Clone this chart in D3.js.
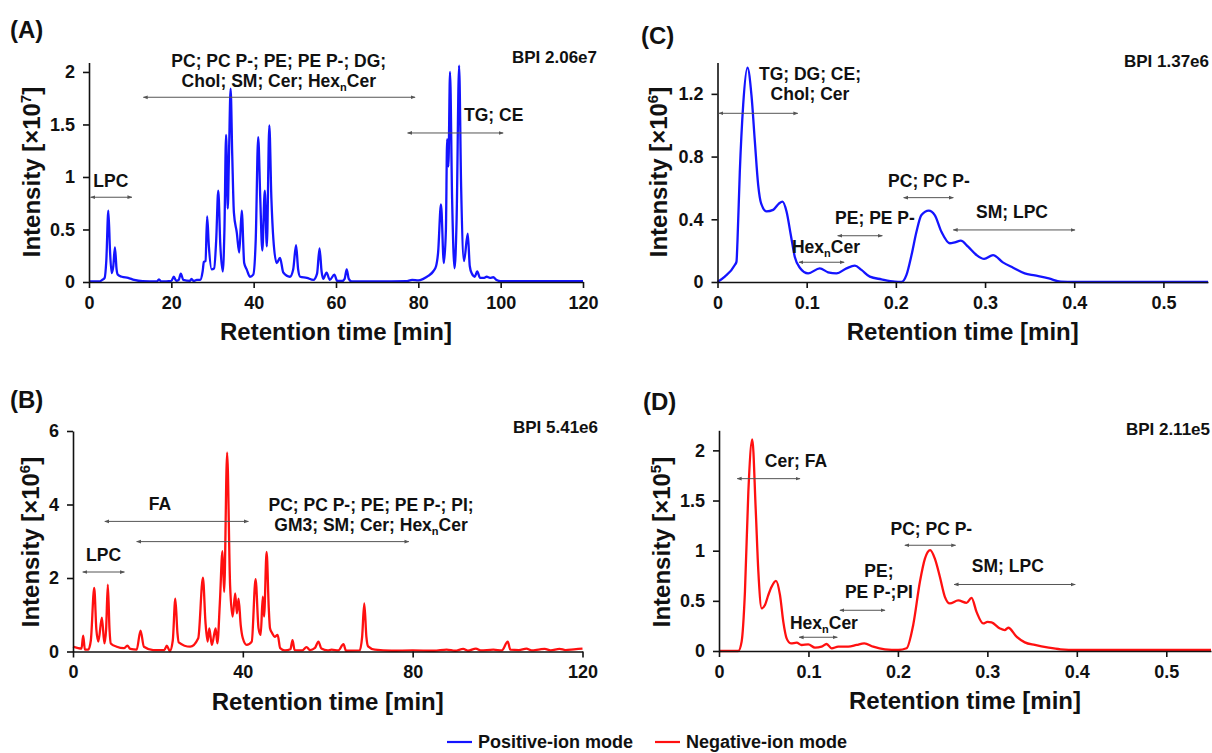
<!DOCTYPE html>
<html>
<head>
<meta charset="utf-8">
<title>BPI chromatograms</title>
<script src="https://d3js.org/d3.v7.min.js"></script>
<style>
  body { margin: 0; background: #fff; }
  svg text { font-family: "Liberation Sans", Arial, sans-serif; font-weight: bold; fill: #111; }
</style>
</head>
<body>
<script>
// ---- data ----
// (A) positive-ion mode, 120 min run, intensity x1e7
var timeA = [0,2.5,3.2,3.8,4.2,4.7,5.1,5.5,5.9,6.3,6.7,7.0,8.0,9.5,11,13,16.5,17.0,17.5,20.0,20.6,21.2,21.8,22.3,22.9,24.5,24.9,25.4,26.2,27.0,27.6,27.9,28.3,28.7,29.1,29.8,30.4,30.9,31.4,31.9,32.5,32.9,33.3,33.7,34.0,34.4,34.8,35.2,35.9,36.5,37.1,37.7,38.3,39.1,39.9,40.5,41.1,41.6,42.1,42.7,43.2,43.8,44.3,44.8,45.6,46.4,47.2,48.8,49.6,50.3,50.8,51.3,52.9,54.5,55.4,56.0,56.5,56.9,57.7,58.5,59.6,60.3,61.5,62.1,62.6,63.1,63.8,70,77,78.5,80,81.2,82.5,83.6,84.3,84.8,85.5,86.2,86.7,87.0,87.3,87.7,88.2,88.8,89.3,89.9,90.4,91.1,92.0,92.5,93.0,93.7,94.3,95.0,96.0,96.6,97.4,98.2,99.0,100,120];
var intA  = [0.005,0.005,0.02,0.04,0.2,0.68,0.3,0.085,0.15,0.33,0.12,0.07,0.05,0.04,0.02,0.008,0.005,0.025,0.005,0.01,0.05,0.01,0.02,0.08,0.02,0.01,0.03,0.01,0.02,0.02,0.1,0.19,0.2,0.625,0.35,0.12,0.13,0.4,0.87,0.35,0.1,0.5,1.40,0.70,1.2,1.84,1.2,0.66,0.47,0.28,0.68,0.18,0.12,0.05,0.07,0.4,1.38,0.8,0.30,0.87,0.34,1.49,0.8,0.40,0.18,0.23,0.09,0.05,0.12,0.35,0.12,0.05,0.04,0.02,0.08,0.32,0.1,0.03,0.09,0.02,0.07,0.01,0.01,0.03,0.12,0.03,0.005,0.005,0.008,0.02,0.015,0.03,0.06,0.1,0.15,0.28,0.74,0.18,0.5,1.36,1.1,2.0,0.8,0.13,0.6,2.06,0.9,0.2,0.46,0.15,0.08,0.05,0.1,0.04,0.04,0.05,0.04,0.045,0.02,0.008,0.008];

// (B) negative-ion mode, 120 min run, intensity x1e6
var timeB = [0,1.0,2.0,2.4,2.8,3.6,4.2,5.0,5.5,5.97,6.8,7.4,7.8,8.2,8.6,8.9,10.3,12.0,12.8,13.5,15.0,15.9,16.7,18.9,21.5,22.1,22.8,23.5,24.1,24.6,24.9,27.6,29.5,30.6,31.2,31.7,32.1,32.7,33.6,34.0,34.6,35.2,35.6,36.3,37.0,37.6,38.2,38.6,39.0,39.5,40.0,40.9,42.1,43.0,43.7,44.2,44.7,45.0,45.6,46.1,46.4,46.9,47.5,48.2,48.8,49.9,51.2,51.7,52.2,54.0,55.0,55.8,57.0,57.8,58.5,60.0,60.9,62.5,63.7,64.3,67.5,68.1,68.6,69.1,69.5,71.1,75,80,85,88,90,91.9,93,94.9,96,99,101,102.4,103,105,106.8,108,110,111.1,112.5,114.6,116,118,120];
var intB  = [0.13,0.10,0.08,0.43,0.05,0.05,0.3,1.73,0.6,0.27,0.92,0.22,0.6,1.82,0.6,0.22,0.13,0.09,0.16,0.07,0.05,0.57,0.13,0.04,0.04,0.16,0.01,0.3,1.44,0.5,0.25,0.13,0.36,2.01,0.8,0.27,0.63,0.18,0.63,0.22,1.35,2.73,1.62,5.41,1.8,0.95,1.58,1.04,1.44,0.72,0.36,0.18,0.27,1.97,0.63,0.45,1.49,0.95,2.71,1.2,0.63,0.5,0.4,0.45,0.09,0.03,0.06,0.31,0.04,0.03,0.12,0.04,0.1,0.27,0.08,0.03,0.05,0.03,0.2,0.02,0.03,0.4,1.31,0.4,0.14,0.05,0.02,0.03,0.02,0.05,0.02,0.07,0.02,0.08,0.03,0.05,0.03,0.27,0.05,0.04,0.08,0.03,0.06,0.07,0.03,0.07,0.04,0.06,0.08];

// (C) positive-ion mode, fast run, intensity x1e6
var timeC = [0,0.0082,0.0194,0.0213,0.0224,0.025,0.0288,0.0336,0.0381,0.0419,0.0456,0.049,0.055,0.0624,0.0688,0.0729,0.0774,0.0822,0.0867,0.0923,0.1016,0.1147,0.124,0.1334,0.1446,0.154,0.1614,0.1708,0.1839,0.1988,0.2063,0.2119,0.2175,0.2231,0.2287,0.2369,0.2436,0.2511,0.2605,0.2661,0.2728,0.281,0.2904,0.299,0.309,0.32,0.3315,0.3445,0.3558,0.3715,0.385,0.40,0.55];
var intC  = [0,0.034,0.108,0.13,0.26,0.70,1.13,1.367,1.19,0.895,0.62,0.50,0.45,0.46,0.50,0.513,0.45,0.30,0.16,0.091,0.055,0.087,0.062,0.055,0.087,0.104,0.077,0.034,0.017,0.002,0,0.045,0.17,0.32,0.427,0.455,0.427,0.32,0.247,0.253,0.264,0.225,0.172,0.147,0.172,0.125,0.091,0.055,0.042,0.023,0.002,0,0];

// (D) negative-ion mode, fast run, intensity x1e5
var timeD = [0,0.0216,0.0253,0.029,0.0328,0.0372,0.041,0.044,0.0477,0.0514,0.0551,0.0588,0.0637,0.0682,0.0719,0.0756,0.0804,0.0868,0.0924,0.0998,0.1073,0.1147,0.1203,0.1259,0.1333,0.1445,0.1538,0.1624,0.1724,0.1855,0.2004,0.2097,0.2171,0.2246,0.2302,0.2361,0.2413,0.2469,0.2525,0.2581,0.2674,0.2767,0.2823,0.2879,0.2953,0.3002,0.3047,0.314,0.3195,0.3233,0.3326,0.3419,0.3531,0.3686,0.3817,0.40,0.55];
var intD  = [0,0,0.093,0.59,1.585,2.11,1.42,0.79,0.425,0.458,0.557,0.64,0.70,0.557,0.29,0.126,0.076,0.083,0.06,0.066,0.033,0.043,0.07,0.027,0.043,0.043,0.06,0.076,0.043,0.017,0.01,0.027,0.26,0.69,0.92,1.005,0.92,0.74,0.54,0.474,0.504,0.48,0.53,0.39,0.275,0.29,0.285,0.225,0.209,0.232,0.143,0.086,0.06,0.033,0.017,0.01,0.01];

// axis ticks
var xTicksLong = [0,20,40,60,80,100,120];
var xTicksB = [0,40,80,120];
var xTicksShort = [0,0.1,0.2,0.3,0.4,0.5];
var xLabelsShort = ["0","0.1","0.2","0.3","0.4","0.5"];
var yTicksA = [0,0.5,1,1.5,2];
var yLabelsA = ["0","0.5","1","1.5","2"];
var yTicksB = [0,2,4,6];
var yTicksC = [0,0.4,0.8,1.2];
var yLabelsC = ["0","0.4","0.8","1.2"];
var yTicksD = [0,0.5,1,1.5,2];

// lipid class annotations: text lines, text centre/baseline and arrow span in data units
var annA = [
  {lines:["LPC"], tx:5.3, ty:0.90, x1:0.4, x2:10.4, y:0.807},
  {lines:["PC; PC P-; PE; PE P-; DG;","Chol; SM; Cer; Hex_nCer"], tx:46.1, ty:2.05, x1:13.2, x2:79.2, y:1.759},
  {lines:["TG; CE"], tx:98.3, ty:1.53, x1:77.4, x2:100.6, y:1.419}
];
var annB = [
  {lines:["LPC"], tx:7.2, ty:2.47, x1:2.3, x2:12.1, y:2.163},
  {lines:["FA"], tx:20.5, ty:3.86, x1:7.5, x2:41.3, y:3.54},
  {lines:["PC; PC P-; PE; PE P-; PI;","GM3; SM; Cer; Hex_nCer"], tx:70.2, ty:3.83, x1:15.0, x2:79.1, y:2.99}
];
var annC = [
  {lines:["TG; DG; CE;","Chol; Cer"], tx:0.1037, ty:1.29, x1:0.0017, x2:0.09, y:1.076},
  {lines:["Hex_nCer"], tx:0.1216, ty:0.182, x1:0.0914, x2:0.142, y:0.126},
  {lines:["PE; PE P-"], tx:0.1766, ty:0.373, x1:0.1348, x2:0.1848, y:0.295},
  {lines:["PC; PC P-"], tx:0.2371, ty:0.606, x1:0.2088, x2:0.2644, y:0.538},
  {lines:["SM; LPC"], tx:0.3302, ty:0.411, x1:0.2644, x2:0.4008, y:0.332}
];
var annD = [
  {lines:["Cer; FA"], tx:0.086, ty:1.834, x1:0.0204, x2:0.0905, y:1.718},
  {lines:["Hex_nCer"], tx:0.1173, ty:0.219, x1:0.0897, x2:0.1322, y:0.137},
  {lines:["PE;","PE P-;PI"], tx:0.1788, ty:0.733, x1:0.1352, x2:0.1855, y:0.406},
  {lines:["PC; PC P-"], tx:0.2374, ty:1.157, x1:0.2078, x2:0.2645, y:1.054},
  {lines:["SM; LPC"], tx:0.3229, ty:0.788, x1:0.2629, x2:0.3982, y:0.663}
];

var BLUE = "#1414ff", RED = "#ff1010";

var svg = d3.select("body").append("svg")
    .attr("width", 1212)
    .attr("height", 753);

// small arrow heads for the annotation spans
var defs = svg.append("defs");
defs.append("marker")
    .attr("id", "head")
    .attr("viewBox", "0 0 8 8")
    .attr("refX", 7).attr("refY", 4)
    .attr("markerWidth", 5).attr("markerHeight", 5)
    .attr("markerUnits", "userSpaceOnUse")
    .attr("orient", "auto-start-reverse")
    .append("path")
    .attr("d", "M0,1 L8,4 L0,7 Z")
    .attr("fill", "#555");

// writes one line of text, turning "_n" into a subscript n
function writeLine(t, str) {
  var parts = str.split("_n");
  t.append("tspan").text(parts[0]);
  for (var i = 1; i < parts.length; i++) {
    t.append("tspan").attr("dy", 4).attr("font-size", "11px").text("n");
    t.append("tspan").attr("dy", -4).text(parts[i]);
  }
}

function drawPanel(p) {
  var g = svg.append("g");
  var x = d3.scaleLinear().domain(p.xDomain).range(p.xRange);
  var y = d3.scaleLinear().domain(p.yDomain).range(p.yRange);

  var xAxis = d3.axisBottom(x)
      .tickValues(p.xTicks)
      .tickFormat(function(d, i) { return p.xLabels ? p.xLabels[i] : d; })
      .tickSize(6).tickSizeOuter(0).tickPadding(8);
  var yAxis = d3.axisLeft(y)
      .tickValues(p.yTicks)
      .tickFormat(function(d, i) { return p.yLabels ? p.yLabels[i] : d; })
      .tickSize(6).tickSizeOuter(0).tickPadding(8);

  // curve first, axes on top
  var line = d3.line()
      .x(function(d) { return x(d[0]); })
      .y(function(d) { return y(d[1]); })
      .curve(d3.curveMonotoneX);
  g.append("path")
      .datum(d3.zip(p.time, p.intensity))
      .attr("d", line)
      .attr("fill", "none")
      .attr("stroke", p.color)
      .attr("stroke-width", 2.3)
      .attr("stroke-linejoin", "round");

  var gx = g.append("g")
      .attr("transform", "translate(0," + p.yRange[0] + ")")
      .call(xAxis);
  var gy = g.append("g")
      .attr("transform", "translate(" + p.xRange[0] + ",0)")
      .call(yAxis);
  [gx, gy].forEach(function(a) {
    a.select(".domain").attr("stroke", "#111").attr("stroke-width", 1.6);
    a.selectAll(".tick line").attr("stroke", "#111").attr("stroke-width", 1.6);
    a.selectAll(".tick text").attr("font-size", "18px").attr("fill", "#111")
      .style("font-family", "'Liberation Sans', Arial, sans-serif").style("font-weight", "bold");
  });

  // annotations
  p.ann.forEach(function(a) {
    g.append("line")
        .attr("x1", x(a.x1)).attr("x2", x(a.x2))
        .attr("y1", y(a.y)).attr("y2", y(a.y))
        .attr("stroke", "#555").attr("stroke-width", 1)
        .attr("marker-start", "url(#head)")
        .attr("marker-end", "url(#head)");
    a.lines.forEach(function(s, i) {
      var t = g.append("text")
          .attr("x", x(a.tx))
          .attr("y", y(a.ty) + i * 20.5)
          .attr("text-anchor", "middle")
          .attr("font-size", "17.5px");
      writeLine(t, s);
    });
  });

  // panel letter, BPI, axis titles
  svg.append("text").attr("x", p.letterPos[0]).attr("y", p.letterPos[1])
      .attr("font-size", "24px").text(p.letter);
  svg.append("text").attr("x", p.bpiPos[0]).attr("y", p.bpiPos[1])
      .attr("text-anchor", "end").attr("font-size", "17px").text(p.bpi);
  svg.append("text")
      .attr("x", (p.xRange[0] + p.xRange[1]) / 2 + p.xTitleShift)
      .attr("y", p.yRange[0] + 58)
      .attr("text-anchor", "middle").attr("font-size", "24px")
      .text("Retention time [min]");
  var yt = svg.append("text")
      .attr("transform", "translate(" + p.yTitlePos[0] + "," + p.yTitlePos[1] + ") rotate(-90)")
      .attr("text-anchor", "middle").attr("font-size", "24px");
  yt.append("tspan").text("Intensity [\u00d710");
  yt.append("tspan").attr("dy", -9).attr("font-size", "15px").text(p.exp);
  yt.append("tspan").attr("dy", 9).text("]");
}

drawPanel({letter:"(A)", letterPos:[10,38], bpi:"BPI 2.06e7", bpiPos:[597,63],
  time:timeA, intensity:intA, color:BLUE,
  xDomain:[0,120], xRange:[89,583], xTicks:xTicksLong,
  yDomain:[0,2.09], yRange:[282,62.5], yTicks:yTicksA, yLabels:yLabelsA,
  exp:"7", yTitlePos:[40,172], xTitleShift:0, ann:annA});

drawPanel({letter:"(B)", letterPos:[10,408], bpi:"BPI 5.41e6", bpiPos:[598,433],
  time:timeB, intensity:intB, color:RED,
  xDomain:[0,120], xRange:[73,582.5], xTicks:xTicksB,
  yDomain:[0,6], yRange:[651.5,431], yTicks:yTicksB,
  exp:"6", yTitlePos:[39,542], xTitleShift:0, ann:annB});

drawPanel({letter:"(C)", letterPos:[641,44], bpi:"BPI 1.37e6", bpiPos:[1209,67],
  time:timeC, intensity:intC, color:BLUE,
  xDomain:[0,0.55], xRange:[717.5,1208], xTicks:xTicksShort, xLabels:xLabelsShort,
  yDomain:[0,1.4], yRange:[282,62.5], yTicks:yTicksC, yLabels:yLabelsC,
  exp:"6", yTitlePos:[667,172], xTitleShift:0, ann:annC});

drawPanel({letter:"(D)", letterPos:[643,410], bpi:"BPI 2.11e5", bpiPos:[1210,435],
  time:timeD, intensity:intD, color:RED,
  xDomain:[0,0.55], xRange:[719,1211], xTicks:xTicksShort, xLabels:xLabelsShort,
  yDomain:[0,2.2], yRange:[651,430.3], yTicks:yTicksD, yLabels:yLabelsA,
  exp:"5", yTitlePos:[670,542], xTitleShift:0, ann:annD});

// legend
var legend = [{name:"Positive-ion mode", color:BLUE, x:447}, {name:"Negative-ion mode", color:RED, x:655}];
legend.forEach(function(l) {
  svg.append("line").attr("x1", l.x).attr("x2", l.x + 25)
      .attr("y1", 742).attr("y2", 742)
      .attr("stroke", l.color).attr("stroke-width", 2.2);
  svg.append("text").attr("x", l.x + 31).attr("y", 748)
      .attr("font-size", "18px").text(l.name);
});
</script>
</body>
</html>
